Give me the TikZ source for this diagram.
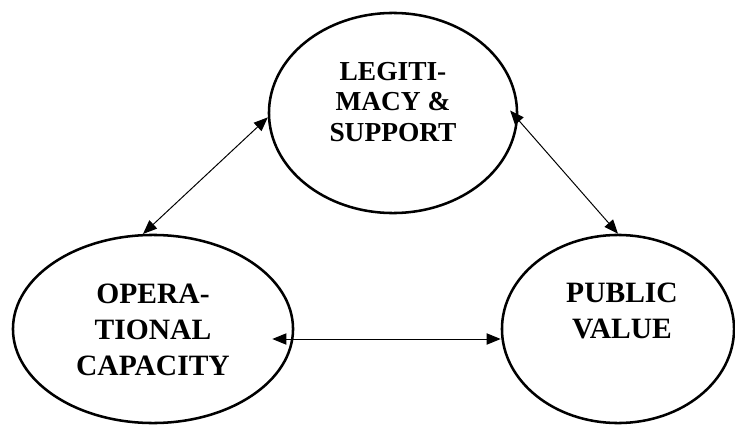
\documentclass[tikz,border=0pt]{standalone}
\usepackage{fontspec}
\setmainfont{Liberation Serif}
\usetikzlibrary{shapes.geometric, arrows.meta}

\tikzset{
  circ/.style={ellipse, draw, line width=1.8pt, inner sep=0pt},
  word/.style={align=center, font=\bfseries\fontsize{21}{25.5}\selectfont},
  link/.style={{Triangle[length=10pt,width=8pt]}-{Triangle[length=10pt,width=8pt]}, line width=0.7pt},
}

\begin{document}
\begin{tikzpicture}[x=0.025cm, y=-0.025cm]
    \useasboundingbox (0,0) rectangle (735,426);

    % Legitimacy and support
    \node[circ, minimum width=6.2cm, minimum height=5cm] (legit) at (393,113) {};
    \node[word, font=\bfseries\fontsize{19.5}{22}\selectfont] (legittxt) at (393,102) {LEGITI-\\MACY \&\\SUPPORT};

    % Operational capacity
    \node[circ, minimum width=7cm, minimum height=4.7cm] (oper) at (153,329) {};
    \node[word] (opertxt) at (153,330) {OPERA-\\TIONAL\\CAPACITY};

    % Public value
    \node[circ, minimum width=5.8cm, minimum height=4.7cm] (pubval) at (618,329) {};
    \node[word] (pubvaltxt) at (622,311) {PUBLIC\\VALUE};

    % Links
    \draw[link] (oper.96) -- (legit.182);
    \draw[link, shorten <=-0.3cm] (legit.-3) -- (pubval.north);
    \draw[link, shorten <=-0.55cm] ([yshift=-0.25cm]oper.east) -- ([yshift=-0.25cm]pubval.west);
\end{tikzpicture}
\end{document}
